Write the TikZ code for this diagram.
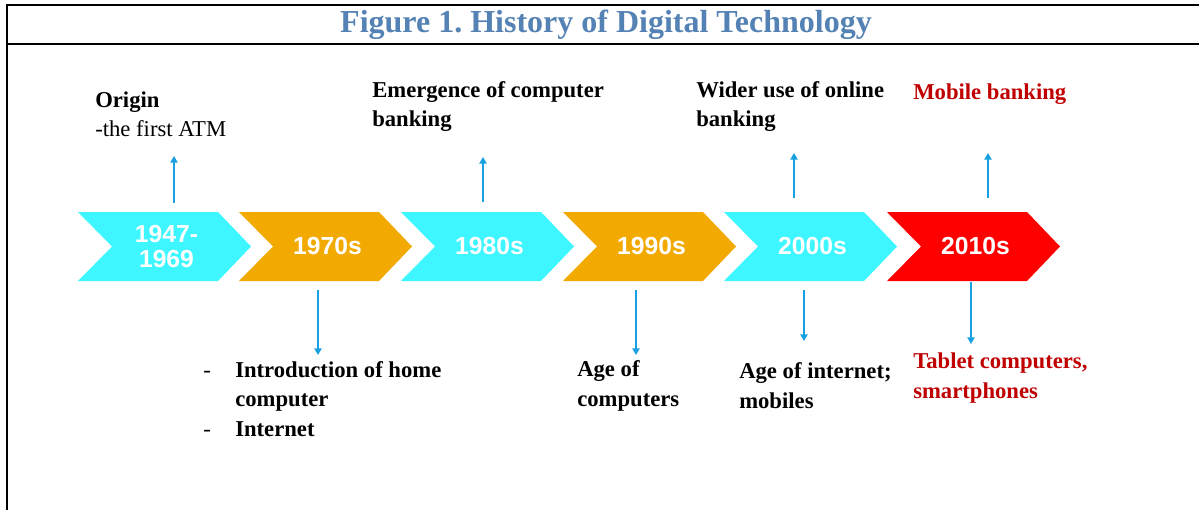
\documentclass[tikz,border=0pt]{standalone}
\usepackage{fontspec}
\setmainfont{Liberation Serif}
\newfontfamily\arialfont{Liberation Sans}
\usetikzlibrary{arrows.meta}
\definecolor{cyanbox}{RGB}{62,246,255}
\definecolor{orangebox}{RGB}{242,170,0}
\definecolor{redbox}{RGB}{255,0,0}
\definecolor{darkred}{RGB}{192,0,0}
\definecolor{titleblue}{RGB}{84,130,180}
\definecolor{arrowblue}{RGB}{25,160,225}
\frenchspacing
\begin{document}
\begin{tikzpicture}[x=0.75pt,y=-0.75pt,
  frame/.style={line width=1.6pt,black},
  yeartxt/.style={text=white,font=\arialfont\bfseries\fontsize{18.5}{19}\selectfont,align=center,inner sep=0},
  lbl/.style={font=\fontsize{17}{22}\selectfont,align=left,inner sep=0,anchor=base west},
  conn/.style={arrowblue,line width=1.1pt,-{Triangle[width=5.5pt,length=5pt]}}]
\useasboundingbox (0,0) rectangle (1199,510);
% frame
\draw[frame] (7,5) -- (1199,5);
\draw[frame] (7,44) -- (1199,44);
\draw[frame] (7,4.2) -- (7,510);
% title
\node[font=\bfseries\fontsize{24}{28}\selectfont,text=titleblue,inner sep=0] (title) at (606,25) {Figure 1. History of Digital Technology};
% chevrons
\foreach \x/\c/\n/\t in {78/cyanbox/c1/{1947-\\1969}, 239/orangebox/c2/1970s, 401/cyanbox/c3/1980s, 563/orangebox/c4/1990s, 724/cyanbox/c5/2000s, 887/redbox/c6/2010s}{
  \fill[\c] (\x,212) -- ++(140,0) -- ++(33,34.5) -- ++(-33,34.5) -- ++(-140,0) -- ++(34,-34.5) -- cycle;
  \node[yeartxt] (\n) at (\x+88.5,246.5) {\t};
}
% labels above (anchor = baseline of last line)
\node[lbl] (l1) at (95,137) {{\bfseries Origin}\\-the first ATM};
\node[lbl] (l3) at (372,127) {{\bfseries Emergence of computer}\\{\bfseries banking}};
\node[lbl] (l5) at (696,127) {{\bfseries Wider use of online}\\{\bfseries banking}};
\node[lbl,text=darkred] (l6) at (913,99) {{\bfseries Mobile banking}};
% labels below
\node[lbl] (d2) at (203,436) {\makebox[24pt][l]{-}{\bfseries Introduction of home}\\\hspace*{24pt}{\bfseries computer}\\\makebox[24pt][l]{-}{\bfseries Internet}};
\node[lbl] (d4) at (577,406) {{\bfseries Age of}\\{\bfseries computers}};
\node[lbl] (d5) at (739,408) {{\bfseries Age of internet;}\\{\bfseries mobiles}};
\node[lbl,text=darkred] (d6) at (913,398) {{\bfseries Tablet computers,}\\{\bfseries smartphones}};
% connectors
\coordinate (u1s) at (174,203); \coordinate (u1e) at (174,156);
\coordinate (u3s) at (483,202); \coordinate (u3e) at (483,157);
\coordinate (u5s) at (794,198); \coordinate (u5e) at (794,153);
\coordinate (u6s) at (988,198); \coordinate (u6e) at (988,153);
\coordinate (w2s) at (318,290); \coordinate (w2e) at (318,355);
\coordinate (w4s) at (636,290); \coordinate (w4e) at (636,355);
\coordinate (w5s) at (804,290); \coordinate (w5e) at (804,341);
\coordinate (w6s) at (971,282); \coordinate (w6e) at (971,344);
\foreach \a in {u1,u3,u5,u6,w2,w4,w5,w6}{\draw[conn] (\a s) -- (\a e);}
\end{tikzpicture}
\end{document}
